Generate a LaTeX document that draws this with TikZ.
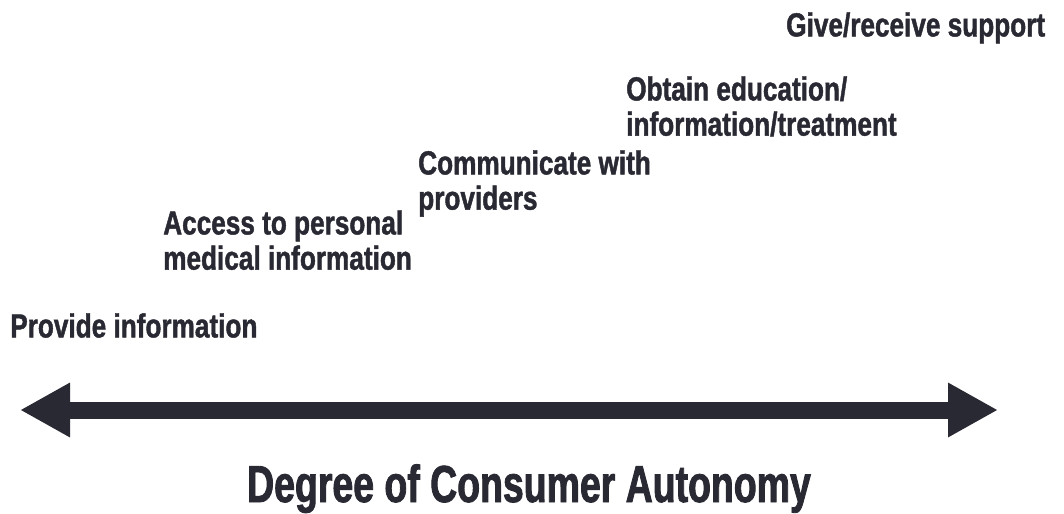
\documentclass[tikz,border=0pt]{standalone}
\usepackage{fontspec}
\setmainfont[FakeStretch=0.785,FakeBold=1.3]{Liberation Sans}
\newfontfamily\titlefont[FakeStretch=0.72,FakeBold=1.6]{Liberation Sans}
\usetikzlibrary{positioning,arrows.meta}

\definecolor{ink}{RGB}{41,41,51}

\begin{document}
\begin{tikzpicture}[x=0.75pt, y=-0.75pt, >=Triangle,
  stage/.style={anchor=north west, inner sep=0pt, align=left, text=ink,
    font=\bfseries\fontsize{25}{26.4}\selectfont},
  axis/.style={draw=ink, line width=12.75pt,
    {Triangle[length=37.5pt,width=38.25pt]}-{Triangle[length=37.5pt,width=38.25pt]}}]
  \useasboundingbox (0,0) rectangle (1064,514);

  \node [stage] (give) at (786,12) {Give/receive support};
  \node [stage] (obtain) at (626,76) {Obtain education/\\information/treatment};
  \node [stage] (comm) at (418,150) {Communicate with\\providers};
  \node [stage] (access) at (163,210) {Access to personal\\medical information};
  \node [stage] (provide) at (10,313) {Provide information};

  \coordinate (less) at (20,410);
  \coordinate (more) at (998,410);
  \draw [axis] (less) -- (more);

  \node [anchor=base, inner sep=0pt, text=ink,
    font=\titlefont\bfseries\fontsize{39}{42}\selectfont] (title) at (529,502)
    {Degree of Consumer Autonomy};
\end{tikzpicture}
\end{document}
